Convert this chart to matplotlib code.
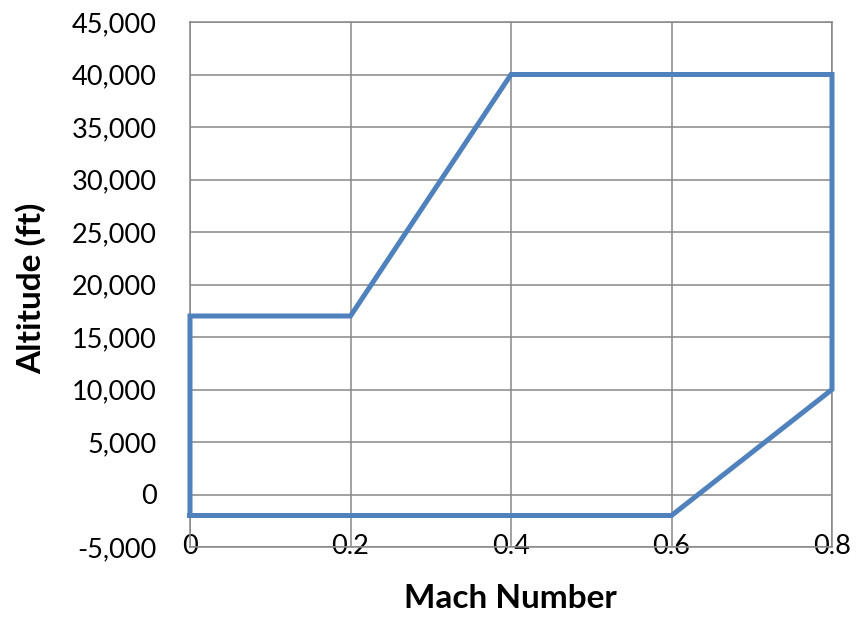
import matplotlib
matplotlib.use("Agg")
import matplotlib.pyplot as plt
from matplotlib.ticker import FuncFormatter

# envelope outline (Mach, altitude ft)
mach = [0.0, 0.0, 0.2, 0.4, 0.8, 0.8, 0.6, 0.0]
altitude = [-2000, 17000, 17000, 40000, 40000, 10000, -2000, -2000]

x_ticks = [0, 0.2, 0.4, 0.6, 0.8]
x_tick_labels = ["0", "0.2", "0.4", "0.6", "0.8"]
y_ticks = list(range(-5000, 45001, 5000))

plt.rcParams["font.family"] = ["Lato", "DejaVu Sans"]
GRID = "#878787"
BLUE = "#4F81BD"

fig = plt.figure(figsize=(8.58, 6.17), dpi=100)
ax = fig.add_axes([190 / 858, 1 - 547 / 617, (832 - 190) / 858, (547 - 22) / 617])

ax.plot(mach, altitude, color=BLUE, lw=3.6, solid_joinstyle="miter", zorder=3,
        clip_on=False)

ax.set_xlim(0, 0.8)
ax.set_ylim(-5000, 45000)
ax.set_xticks(x_ticks)
ax.set_xticklabels(x_tick_labels)
ax.set_yticks(y_ticks)
ax.yaxis.set_major_formatter(FuncFormatter(lambda v, _: f"{int(v):,}"))

ax.grid(True, color=GRID, lw=1.1)
ax.set_axisbelow(True)
for s in ax.spines.values():
    s.set_color(GRID)
    s.set_linewidth(1.1)

ax.tick_params(axis="y", length=0, pad=24, labelsize=19.5)
ax.tick_params(axis="x", length=0, pad=0, labelsize=19.5)
for lab in ax.get_xticklabels():
    lab.set_va("center")

# axis titles placed where the reference has them
fig.text(510 / 858, 1 - 598 / 617, "Mach Number", fontsize=24, fontweight="bold",
         ha="center", va="center")
fig.text(31 / 858, 1 - 288 / 617, "Altitude (ft)", fontsize=24, fontweight="bold",
         ha="center", va="center", rotation=90)

fig.savefig("out.png", dpi=100, facecolor="white")
